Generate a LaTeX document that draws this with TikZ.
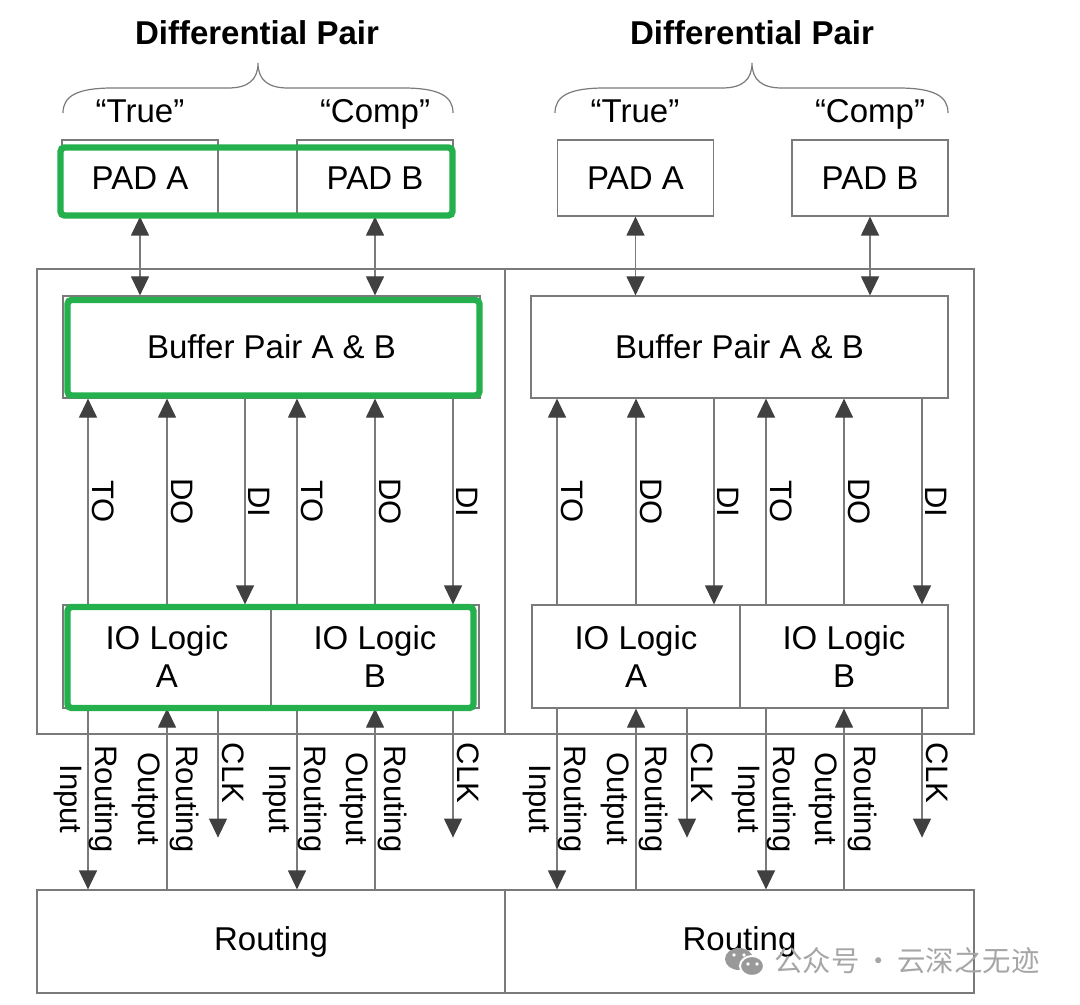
\documentclass[tikz,border=0pt]{standalone}
\usepackage{fontspec}
\setmainfont{Liberation Sans}
\newfontfamily\cjk{Noto Sans CJK SC}
\usetikzlibrary{arrows.meta}
\definecolor{boxgray}{HTML}{7A7A7A}
\definecolor{tipgray}{HTML}{404040}
\definecolor{hlgreen}{HTML}{25B04E}
\definecolor{wmgray}{HTML}{A6A6A6}
\newcommand{\boxfont}{\fontsize{16.5pt}{19pt}\selectfont}
\newcommand{\sigfont}{\fontsize{15.5pt}{18pt}\selectfont}

\begin{document}
\begin{tikzpicture}[
  x=0.5pt, y=-0.5pt,
  >={Triangle[length=9.5pt, width=9pt, color=tipgray]},
  box/.style={draw=boxgray, line width=0.6pt, inner sep=0pt, font=\boxfont, align=center},
  pad/.style={box, minimum width=78pt, minimum height=38pt},
  buffer/.style={box, minimum width=208.5pt, minimum height=51pt},
  iolog/.style={box, minimum width=104pt, minimum height=51.5pt},
  iob/.style={box, minimum width=#1, minimum height=232.5pt},
  rout/.style={box, minimum width=#1, minimum height=51.5pt},
  hilite/.style={draw=hlgreen, line width=3.2pt, rounded corners=2pt},
  sig/.style={draw=boxgray, line width=0.6pt},
  siglbl/.style={font=\sigfont, rotate=-90, inner sep=0pt}
]
\useasboundingbox (0,0) rectangle (1080,1005);

% ── Headings and braces ──
\node[font=\boxfont\bfseries, anchor=base] (titleL) at (257,45) {Differential Pair};
\node[font=\boxfont\bfseries, anchor=base] (titleR) at (752,45) {Differential Pair};
\foreach \l/\t/\r in {63/258/453, 555/752/948} {
  \draw[boxgray, line width=0.6pt] (\l,113) .. controls (\l,96) and (\l+14,88) .. (\l+50,88)
    -- (\t-30,88) .. controls (\t-10,88) and (\t,80) .. (\t,63)
    .. controls (\t,80) and (\t+10,88) .. (\t+30,88)
    -- (\r-50,88) .. controls (\r-14,88) and (\r,96) .. (\r,113);
}
\node[font=\boxfont, anchor=base] (trueL) at (140,123) {``True''};
\node[font=\boxfont, anchor=base] (compL) at (375,123) {``Comp''};
\node[font=\boxfont, anchor=base] (trueR) at (635,123) {``True''};
\node[font=\boxfont, anchor=base] (compR) at (870,123) {``Comp''};

% ── Pads ──
\node[pad] (padAL) at (140,178) {PAD A};
\node[pad] (padBL) at (375,178) {PAD B};
\node[pad] (padAR) at (635.5,178) {PAD A};
\node[pad] (padBR) at (870,178) {PAD B};

% ── IO blocks ──
\node[iob=234pt] (iobL) at (271,501.5) {};
\node[iob=234.5pt] (iobR) at (739.5,501.5) {};
\node[buffer] (bufL) at (271.5,347) {Buffer Pair A \& B};
\node[buffer] (bufR) at (739.5,347) {Buffer Pair A \& B};
\node[iolog] (ioAL) at (167,656.5) {IO Logic\\A};
\node[iolog] (ioBL) at (375,656.5) {IO Logic\\B};
\node[iolog] (ioAR) at (636,656.5) {IO Logic\\A};
\node[iolog] (ioBR) at (844,656.5) {IO Logic\\B};

% ── Routing ──
\node[rout=234pt] (routL) at (271,941.5) {Routing};
\node[rout=234.5pt] (routR) at (739.5,941.5) {Routing};

% ── Pad to buffer ──
\foreach \p/\b in {padAL/bufL, padBL/bufL, padAR/bufR, padBR/bufR}
  \draw[sig, <->] (\p.south) -- (\p.south |- \b.north);

% ── Buffer <-> IO logic, IO logic <-> routing ──
\foreach \h/\dx in {L/0, R/469} {
  \foreach \x/\io/\lbl in {88/ioA/TO, 167/ioA/DO, 297/ioB/TO, 375/ioB/DO}
    \draw[sig, ->] (\io\h.north -| \x+\dx,0) -- (buf\h.south -| \x+\dx,0)
      node[midway, xshift=7.5pt, siglbl] {\lbl};
  \foreach \x/\io in {245/ioA, 453/ioB}
    \draw[sig, ->] (buf\h.south -| \x+\dx,0) -- (\io\h.north -| \x+\dx,0)
      node[midway, xshift=7pt, siglbl] {DI};
  \foreach \x/\io in {88/ioA, 297/ioB}
    \draw[sig, ->] (\io\h.south -| \x+\dx,0) -- (rout\h.north -| \x+\dx,0)
      node[midway, xshift=-10pt, siglbl] {Input}
      node[midway, xshift=8pt, siglbl] {Routing};
  \foreach \x/\io in {167/ioA, 375/ioB}
    \draw[sig, ->] (rout\h.north -| \x+\dx,0) -- (\io\h.south -| \x+\dx,0)
      node[midway, xshift=-10.5pt, siglbl] {Output}
      node[midway, xshift=9pt, siglbl] {Routing};
  \foreach \x/\io in {218/ioA, 453/ioB}
    \draw[sig, ->] (\io\h.south -| \x+\dx,0) -- ++(0,129)
      node[midway, xshift=7.5pt, siglbl] {CLK};
}

% ── Highlighted pair ──
\draw[hilite] (60.5,147.5) rectangle (452.5,215.5);
\draw[hilite] (67.5,300) rectangle (479.5,395.5);
\draw[hilite] (67.5,607) rectangle (473.5,708);

% ── Watermark ──
\fill[wmgray!115] (739,959) ellipse [x radius=14, y radius=11];
\fill[wmgray!115, draw=white, line width=1pt] (752,966) ellipse [x radius=12, y radius=10];
\foreach \c in {(734,955), (744,955), (748,964), (757,964)}
  \fill[white] \c circle (1.8);
\node[font=\cjk\fontsize{14.2pt}{17pt}\selectfont, text=wmgray, anchor=west, inner sep=0pt] (wm) at (774,961) {公众号\,·\,云深之无迹};

\end{tikzpicture}
\end{document}
